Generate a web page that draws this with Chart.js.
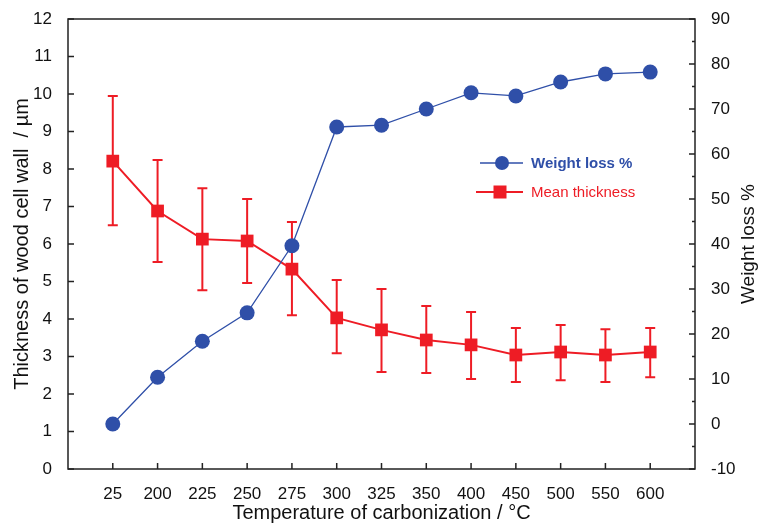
<!DOCTYPE html>
<html>
<head>
<meta charset="utf-8">
<script src="https://cdn.jsdelivr.net/npm/chart.js@4"></script>
<style>
  html, body { margin: 0; padding: 0; background: #fff; }
  #wrap { width: 763px; height: 528px; position: relative; }
</style>
</head>
<body>
<div id="wrap"><canvas id="chart"></canvas></div>
<script>
// valores
const temps = ['25', '200', '225', '250', '275', '300', '325', '350', '400', '450', '500', '550', '600'];
const thickness = [8.21, 6.88, 6.13, 6.08, 5.33, 4.03, 3.71, 3.44, 3.31, 3.04, 3.12, 3.04, 3.12];
const thickHigh = [9.95, 8.24, 7.49, 7.20, 6.59, 5.04, 4.80, 4.35, 4.19, 3.76, 3.84, 3.73, 3.76];
const thickLow = [6.50, 5.52, 4.77, 4.96, 4.10, 3.09, 2.59, 2.56, 2.40, 2.32, 2.37, 2.32, 2.45];
const weightLoss = [0, 10.4, 18.4, 24.7, 39.6, 66.0, 66.4, 70.0, 73.6, 72.9, 76.0, 77.8, 78.2];

const BLUE = '#2f4fa8';
const RED = '#ee1c25';
const AXIS = '#222';
const FONT = '"Liberation Sans", Arial, sans-serif';

const ctx = document.getElementById('chart').getContext('2d');

// barras de erro, ticks para dentro, moldura, legenda e título da direita
const extras = {
  id: 'extras',
  beforeDatasetsDraw(chart) {
    const c = chart.ctx;
    const x = chart.scales.x, y = chart.scales.y;
    c.save();
    c.strokeStyle = RED;
    c.lineWidth = 2;
    thickness.forEach((v, i) => {
      const px = x.getPixelForValue(i);
      const top = y.getPixelForValue(thickHigh[i]);
      const bot = y.getPixelForValue(thickLow[i]);
      c.beginPath();
      c.moveTo(px, top); c.lineTo(px, bot);
      c.moveTo(px - 5, top); c.lineTo(px + 5, top);
      c.moveTo(px - 5, bot); c.lineTo(px + 5, bot);
      c.stroke();
    });
    c.restore();
  },
  afterDraw(chart) {
    const c = chart.ctx;
    const a = chart.chartArea;
    const x = chart.scales.x, y = chart.scales.y, y2 = chart.scales.y2;
    c.save();
    c.strokeStyle = AXIS;
    c.lineWidth = 1.5;
    c.strokeRect(a.left, a.top, a.right - a.left, a.bottom - a.top);
    c.beginPath();
    temps.forEach((t, i) => {
      const px = x.getPixelForValue(i);
      c.moveTo(px, a.bottom); c.lineTo(px, a.bottom - 6);
    });
    for (let v = 0; v <= 12; v++) {
      const py = y.getPixelForValue(v);
      c.moveTo(a.left, py); c.lineTo(a.left + 6, py);
    }
    for (let v = -10; v <= 90; v += 5) {
      const py = y2.getPixelForValue(v);
      c.moveTo(a.right, py); c.lineTo(a.right - (v % 10 === 0 ? 6 : 3), py);
    }
    c.stroke();

    // título do eixo da direita, lido de baixo para cima
    c.save();
    c.translate(749, (a.top + a.bottom) / 2);
    c.rotate(-Math.PI / 2);
    c.fillStyle = '#111';
    c.font = '19px ' + FONT;
    c.textAlign = 'center';
    c.textBaseline = 'middle';
    c.fillText('Weight loss %', 0, 0);
    c.restore();

    // legenda
    const ds = chart.data.datasets;
    const rows = [
      { d: ds[0], y: 163, x1: 480, x2: 523, mx: 502, bold: true },
      { d: ds[1], y: 192, x1: 476, x2: 523, mx: 500, bold: false }
    ];
    rows.forEach(r => {
      c.strokeStyle = r.d.borderColor;
      c.fillStyle = r.d.backgroundColor;
      c.lineWidth = r.d.borderWidth;
      c.beginPath(); c.moveTo(r.x1, r.y); c.lineTo(r.x2, r.y); c.stroke();
      if (r.d.pointStyle === 'rect') {
        c.fillRect(r.mx - 6.5, r.y - 6.5, 13, 13);
      } else {
        c.beginPath(); c.arc(r.mx, r.y, 7, 0, Math.PI * 2); c.fill();
      }
      c.font = (r.bold ? 'bold ' : '') + '15px ' + FONT;
      c.textBaseline = 'middle';
      c.fillText(r.d.label, 531, r.y + 1);
    });
    c.restore();
  }
};

new Chart(ctx, {
  type: 'line',
  data: {
    datasets: [
      {
        label: 'Weight loss %',
        data: weightLoss.map((v, i) => ({ x: i, y: v })),
        yAxisID: 'y2',
        borderColor: BLUE,
        backgroundColor: BLUE,
        borderWidth: 1.3,
        pointStyle: 'circle',
        pointRadius: 7.5,
        pointBorderWidth: 0,
        tension: 0,
        order: 1
      },
      {
        label: 'Mean thickness',
        data: thickness.map((v, i) => ({ x: i, y: v })),
        yAxisID: 'y',
        borderColor: RED,
        backgroundColor: RED,
        borderWidth: 2,
        pointStyle: 'rect',
        pointRadius: 9,
        pointBorderWidth: 0,
        tension: 0,
        order: 2
      }
    ]
  },
  options: {
    responsive: true,
    maintainAspectRatio: false,
    animation: false,
    layout: { padding: { top: 19, bottom: 0, left: 0, right: 0 } },
    plugins: { legend: { display: false }, tooltip: { enabled: false } },
    scales: {
      x: {
        type: 'linear',
        min: -1, max: 13,
        afterBuildTicks: s => { s.ticks = temps.map((t, i) => ({ value: i })); },
        afterFit: s => { s.height = 59; },
        grid: { display: false },
        border: { display: false },
        ticks: {
          callback: v => temps[v] ?? '',
          color: '#111',
          font: { family: FONT, size: 17 },
          padding: 7,
          maxRotation: 0,
          autoSkip: false
        },
        title: {
          display: true,
          text: 'Temperature of carbonization / °C',
          color: '#111',
          font: { family: FONT, size: 20 },
          padding: { top: 0, bottom: 3 }
        }
      },
      y: {
        position: 'left',
        min: 0, max: 12,
        afterFit: s => { s.width = 68; },
        grid: { display: false },
        border: { display: false },
        ticks: {
          stepSize: 1,
          color: '#111',
          font: { family: FONT, size: 17 },
          padding: 8
        },
        title: {
          display: true,
          text: 'Thickness of wood cell wall  / µm',
          color: '#111',
          font: { family: FONT, size: 20 },
          padding: { top: 10, bottom: 0 }
        }
      },
      y2: {
        position: 'right',
        min: -10, max: 90,
        afterFit: s => { s.width = 68; },
        grid: { display: false },
        border: { display: false },
        ticks: {
          stepSize: 10,
          color: '#111',
          font: { family: FONT, size: 17 },
          padding: 8
        },
        title: { display: false }
      }
    }
  },
  plugins: [extras]
});
</script>
</body>
</html>
